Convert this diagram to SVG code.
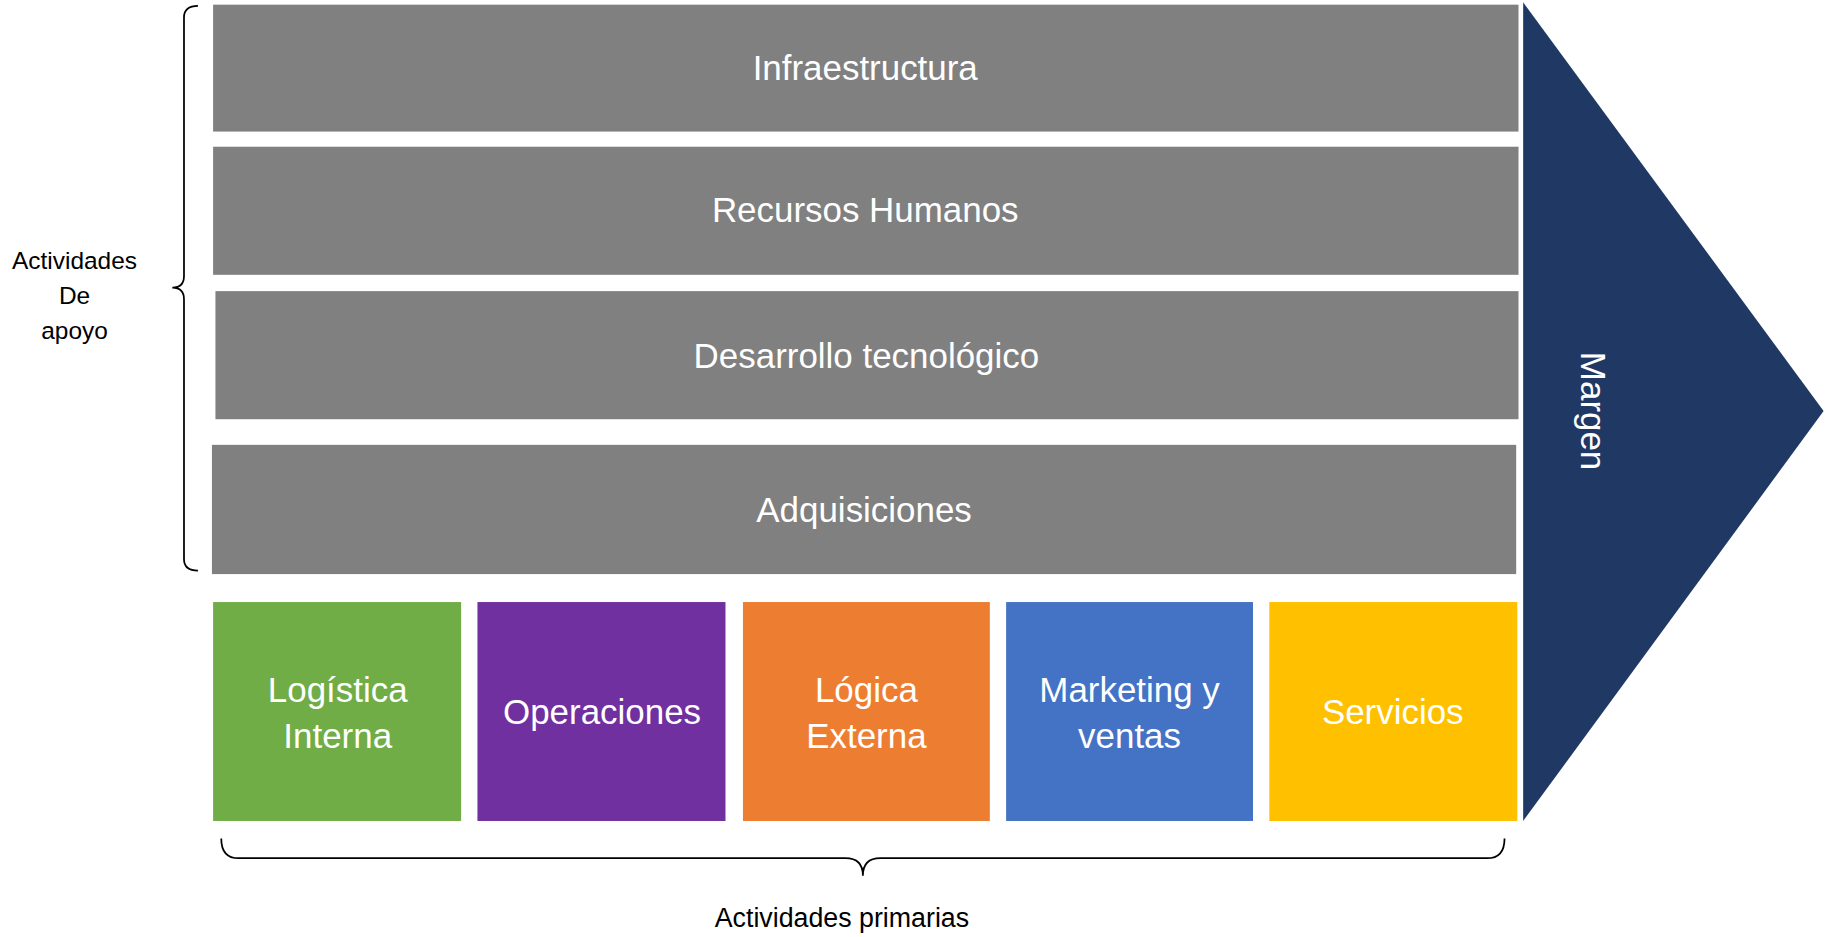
<svg xmlns="http://www.w3.org/2000/svg" width="1826" height="937" viewBox="0 0 1826 937">
<style>
.s{fill:#808080}
.w{fill:#fff;font-family:"Liberation Sans",Arial,sans-serif;font-size:30px;text-anchor:middle}
.k{fill:#000;font-family:"Liberation Sans",Arial,sans-serif;font-size:21px;text-anchor:middle}
.br{fill:none;stroke:#000;stroke-width:1.5}
</style>
<rect width="1826" height="937" fill="#fff"/>
<g transform="scale(1.1645)">
<g id="infra"><rect class="s" x="183" y="4" width="1121" height="109"/><text class="w" x="743" y="69">Infraestructura</text></g>
<g id="rrhh"><rect class="s" x="183" y="126" width="1121" height="110"/><text class="w" x="743" y="191">Recursos Humanos</text></g>
<g id="desarrollo"><rect class="s" x="185" y="250" width="1119" height="110"/><text class="w" x="744" y="316">Desarrollo tecnológico</text></g>
<g id="adq"><rect class="s" x="182" y="382" width="1120" height="111"/><text class="w" x="742" y="448">Adquisiciones</text></g>
<g id="log"><rect fill="#70AD47" x="183" y="517" width="213" height="188"/><text class="w" x="290" y="603">Logística</text><text class="w" x="290" y="642">Interna</text></g>
<g id="ope"><rect fill="#7030A0" x="410" y="517" width="213" height="188"/><text class="w" x="517" y="622">Operaciones</text></g>
<g id="lext"><rect fill="#ED7D31" x="638" y="517" width="212" height="188"/><text class="w" x="744" y="603">Lógica</text><text class="w" x="744" y="642">Externa</text></g>
<g id="mkt"><rect fill="#4472C4" x="864" y="517" width="212" height="188"/><text class="w" x="970" y="603">Marketing y</text><text class="w" x="970" y="642">ventas</text></g>
<g id="serv"><rect fill="#FFC000" x="1090" y="517" width="213" height="188"/><text class="w" x="1196" y="622">Servicios</text></g>
<g id="margen"><polygon fill="#1F3864" points="1308,2 1566,353 1308,705"/><text class="w" transform="translate(1358,353) rotate(90)">Margen</text></g>
<g id="connectors">
<path class="br" d="M170,5 Q158,5 158,15 L158,237 Q158,247 148,247 Q158,247 158,257 L158,480 Q158,490 170,490"/>
<path class="br" d="M190,720 Q190,737 205,737 L726,737 Q741,737 741,752 Q741,737 756,737 L1277,737 Q1292,737 1292,720"/>
</g>
<g id="labels">
<text class="k" x="64" y="231">Actividades</text><text class="k" x="64" y="261">De</text><text class="k" x="64" y="291">apoyo</text>
<text class="k" x="723" y="796" style="font-size:23px">Actividades primarias</text>
</g>
</g>
</svg>
